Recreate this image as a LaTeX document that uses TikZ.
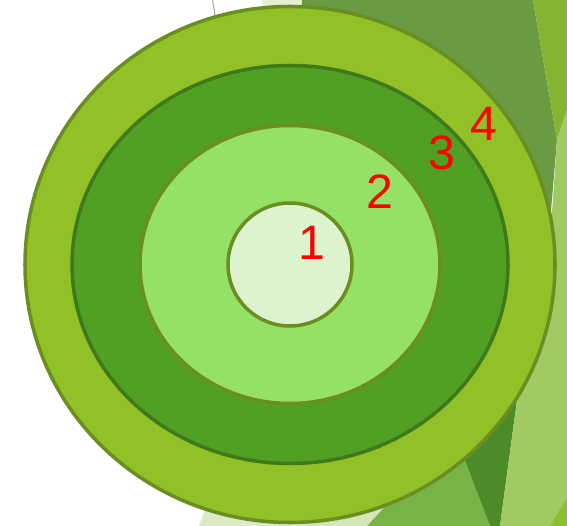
\documentclass[tikz,border=0pt]{standalone}
\usepackage{fontspec}
\setmainfont{Liberation Sans}
\usetikzlibrary{positioning}

\definecolor{ringOuter}{HTML}{92C127}
\definecolor{ringSecond}{HTML}{52A023}
\definecolor{ringThird}{HTML}{95E066}
\definecolor{ringCore}{HTML}{DDF3CE}
\definecolor{rimOlive}{HTML}{6B8E23}
\definecolor{rimDark}{HTML}{3E7A19}
\definecolor{bgOlive}{HTML}{6A9A42}
\definecolor{bgStrip}{HTML}{84B432}
\definecolor{bgPale}{HTML}{A2CA62}
\definecolor{bgDark}{HTML}{4D8A28}
\definecolor{bgMid}{HTML}{77B347}
\definecolor{bgLight}{HTML}{DDEAC6}
\definecolor{bgLightB}{HTML}{D3E6B6}
\definecolor{bgTop}{HTML}{E6EED3}
\definecolor{bgBright}{HTML}{8CBF2E}

\begin{document}
\begin{tikzpicture}[x=0.02cm, y=-0.02cm,
    rim/.style={line width=2pt},
    ringlabel/.style={text=red, font=\fontsize{27.5}{30}\selectfont, inner sep=0pt}]
  \useasboundingbox (0,0) rectangle (567,526);

  % --- centre of the rings ---
  \def\cx{290}
  \def\cy{264.5}

  % --- background shapes ---
  \draw[gray!70, line width=0.6pt] (212.5,0) -- (216,20);
  \fill[bgTop] (262,0) -- (302,0) -- (304,30) -- (266,30) -- cycle;
  \fill[bgOlive] (302,0) -- (533,0) -- (557,140) -- (546,270) -- (300,270) -- cycle;
  \fill[bgStrip] (533,0) -- (567,0) -- (567,110) -- (557,140) -- cycle;
  \fill[bgDark] (420,350) -- (540,300) -- (518,393) -- (500,526) -- (490,526) -- cycle;
  \fill[bgPale] (557,140) -- (567,110) -- (567,526) -- (500,526) -- (518,393) -- (548,270) -- cycle;
  \fill[bgBright] (550,526) -- (567,498) -- (567,526) -- cycle;
  \fill[bgMid] (367,526) -- (422,460) -- (465,460) -- (490,526) -- cycle;
  \fill[bgLight] (199,526) -- (212,490) -- (320,490) -- (305,526) -- cycle;
  \fill[bgLightB] (305,526) -- (320,490) -- (400,490) -- (367,526) -- cycle;

  % --- concentric rings, outside in ---
  \foreach \rx/\ry/\fc/\dc in {265/258/ringOuter/rimOlive,
                               218/199/ringSecond/rimDark,
                               150/139/ringThird/rimOlive,
                               62/61.5/ringCore/rimOlive} {
    \filldraw[rim, fill=\fc, draw=\dc]
      (\cx,\cy) ellipse [x radius=\rx, y radius=\ry];
  }

  % --- ring numbers ---
  \node[ringlabel] (n1) at (312,243) {1};
  \node[ringlabel] (n2) at (380,192) {2};
  \node[ringlabel] (n3) at (442,153) {3};
  \node[ringlabel] (n4) at (484,124) {4};
\end{tikzpicture}
\end{document}
